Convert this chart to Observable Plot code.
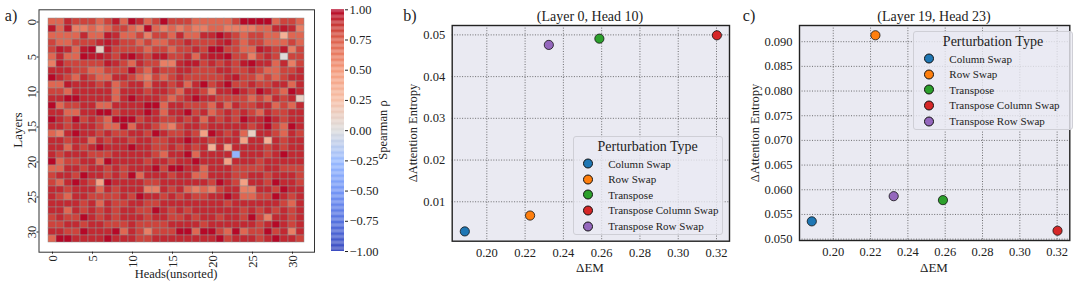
<!DOCTYPE html>
<html><head><meta charset="utf-8">
<script src="https://cdn.jsdelivr.net/npm/d3@7"></script>
<script src="https://cdn.jsdelivr.net/npm/@observablehq/plot@0.6"></script>
<style>
body{margin:0;background:#fff;font-family:"Liberation Serif","DejaVu Serif",serif;color:#222;}
#root{position:relative;width:1080px;height:285px;overflow:hidden;background:#fff;}
#root svg{font-family:"Liberation Serif","DejaVu Serif",serif;font-size:12.5px;}
#root svg text{font-family:"Liberation Serif","DejaVu Serif",serif;}
.plot{position:absolute;top:0;}
.lbl{position:absolute;white-space:nowrap;font-size:13px;line-height:1;color:#222;}
.rot{transform:translate(-50%,-50%) rotate(-90deg);}
.ctr{transform:translate(-50%,-50%);}
.panel{font-size:16px;}
.legend{position:absolute;background:rgba(234,234,242,0.8);border:1px solid #cfcfd6;border-radius:3px;box-sizing:border-box;}
.legend .ttl{position:absolute;left:0;right:0;text-align:center;font-size:14px;line-height:1;transform:translateY(-50%);}
.legend .item{position:absolute;display:flex;align-items:center;font-size:11px;line-height:1;transform:translateY(-50%);white-space:nowrap;}
.legend .mk{width:8px;height:8px;border-radius:50%;border:0.8px solid #111;margin-right:15px;}
</style>
</head><body>
<div id="root"></div>
<script>
// ---------- Data ----------
const layers = d3.range(32);
const heads = d3.range(32);
const layerTicks = [0, 5, 10, 15, 20, 25, 30];
const headTicks = [0, 5, 10, 15, 20, 25, 30];
const colorbarTicks = [-1, -0.75, -0.5, -0.25, 0, 0.25, 0.5, 0.75, 1];

// Spearman rho per (layer row, head column)
const rho = [
[.72,.72,.91,.84,.84,.84,.72,.84,.95,.72,.99,.91,.72,.84,.99,.84,.84,.84,.72,.72,.72,.72,.72,.84,.99,.99,.99,.99,.72,.84,.84,.72],
[.95,.72,.95,.62,.62,.72,.62,.72,.84,.84,.72,.62,.99,.72,.62,.72,.62,.72,.62,.62,.72,.72,.62,.62,.62,.62,.72,.72,.91,.95,.91,.62],
[.72,.72,.72,.72,.91,.72,.72,.95,.91,.72,.72,.84,.62,.84,.84,.72,.91,.72,.72,.91,.91,.99,.91,.84,.72,.84,.84,.72,.72,.35,.72,.72],
[.84,.72,.72,.84,.84,.84,.91,.95,.91,.84,.84,.72,.84,.72,.72,.84,.84,.91,.84,.84,.84,.91,.95,.84,.72,.84,.84,.72,.72,.72,.84,.72],
[.84,.95,.91,.72,.95,.99,.12,.95,.84,.84,.84,.84,.72,.84,.84,.72,.84,.84,.91,.84,.99,.99,.84,.84,.72,.72,.95,.91,.84,.95,.62,.84],
[.72,.91,.72,.72,.99,.95,.95,.91,.84,.95,.99,.91,.84,.95,.95,.84,.84,.91,.72,.91,.95,.95,.99,.84,.84,.62,.84,.91,.84,.02,.84,.84],
[.62,.95,.84,.84,.84,.84,.84,.95,.91,.84,.72,.91,.84,.84,.62,.62,.91,.95,.95,.84,.91,.84,.91,.84,.95,.99,.91,.91,.72,.91,.62,.84],
[.91,.91,.91,.84,.84,.72,.72,.84,.84,.84,.99,.84,.72,.91,.84,.84,.91,.91,.84,.84,.84,.91,.91,.84,.84,.91,.84,.72,.72,.84,.84,.91],
[.99,.91,.84,.72,.91,.84,.72,.72,.91,.91,.84,.72,.62,.84,.72,.84,.91,.84,.84,.84,.84,.84,.91,.95,.84,.84,.72,.84,.72,.84,.91,.91],
[.72,.72,.95,.91,.91,.91,.84,.91,.72,.84,.91,.91,.72,.91,.91,.84,.91,.72,.91,.99,.84,.91,.99,.84,.84,.91,.84,.84,.91,.91,.72,.91],
[.84,.84,.72,.91,.91,.91,.91,.91,.72,.91,.91,.91,.84,.91,.91,.84,.72,.91,.91,.84,.62,.91,.91,.99,.91,.84,.99,.91,.84,.72,.99,.91],
[.91,.91,.99,.99,.91,.91,.91,.91,.72,.91,.99,.91,.91,.91,.84,.72,.84,.91,.99,.91,.91,.84,.84,.84,.84,.72,.84,.72,.91,.84,.91,.12],
[.99,.72,.84,.84,.91,.91,.72,.72,.91,.91,.91,.91,.99,.99,.72,.91,.91,.84,.84,.84,.72,.91,.72,.91,.84,.84,.91,.91,.72,.84,.72,.91],
[.91,.91,.72,.72,.91,.91,.99,.99,.84,.91,.91,.91,.99,.91,.72,.91,.91,.99,.84,.91,.72,.84,.91,.84,.91,.84,.72,.91,.84,.84,.91,.91],
[.99,.91,.84,.99,.84,.91,.84,.72,.99,.99,.99,.84,.91,.91,.84,.84,.91,.84,.91,.72,.91,.84,.91,.84,.99,.91,.91,.99,.91,.84,.91,.91],
[.91,.91,.84,.91,.91,.91,.84,.72,.72,.99,.72,.91,.91,.84,.72,.62,.84,.91,.91,.84,.91,.91,.91,.91,.91,.84,.91,.99,.84,.72,.99,.91],
[.72,.62,.91,.99,.91,.91,.84,.91,.84,.84,.91,.91,.84,.99,.91,.84,.84,.91,.84,.45,.99,.91,.84,.91,.72,.12,.91,.91,.84,.72,.91,.84],
[.91,.91,.84,.91,.91,.72,.91,.84,.91,.91,.84,.91,.91,.84,.84,.91,.91,.99,.91,.91,.84,.91,.91,.91,.45,.91,.91,.35,.91,.84,.91,.91],
[.91,.91,.72,.91,.84,.91,.99,.91,.91,.91,.99,.91,.91,.84,.84,.91,.84,.91,.84,.91,.35,.91,.45,.91,.91,.91,.91,.84,.91,.84,.91,.91],
[.91,.84,.91,.91,.91,.84,.84,.84,.91,.91,.91,.91,.91,.84,.72,.91,.91,.99,.72,.91,.91,.91,.91,-.30,.91,.91,.91,.84,.91,.99,.91,.91],
[.99,.72,.84,.84,.91,.91,.72,.99,.91,.91,.91,.91,.84,.91,.91,.84,.91,.91,.99,.91,.91,.91,.45,.91,.91,.91,.84,.91,.91,.91,.91,.91],
[.72,.72,.91,.91,.84,.91,.91,.84,.91,.84,.91,.91,.91,.99,.84,.99,.99,.91,.91,.72,.91,.91,.91,.84,.84,.84,.84,.91,.91,.84,.84,.84],
[.84,.91,.91,.84,.99,.91,.91,.84,.91,.84,.99,.72,.91,.91,.91,.84,.91,.91,.72,.72,.91,.91,.91,.84,.84,.91,.91,.84,.91,.91,.91,.84],
[.84,.72,.91,.99,.91,.84,.45,.99,.91,.91,.91,.91,.84,.84,.91,.91,.91,.91,.91,.91,.84,.99,.91,.84,.45,.91,.91,.84,.99,.91,.91,.84],
[.91,.91,.84,.91,.91,.91,.72,.91,.84,.91,.91,.91,.62,.62,.91,.84,.91,.72,.62,.72,.62,.84,.91,.91,.62,.62,.91,.91,.84,.99,.91,.91],
[.91,.84,.72,.91,.91,.84,.84,.84,.84,.91,.84,.99,.91,.91,.84,.91,.84,.91,.84,.84,.91,.91,.99,.91,.72,.72,.84,.84,.99,.91,.84,.91],
[.91,.91,.91,.91,.84,.91,.72,.91,.84,.84,.91,.91,.84,.84,.91,.91,.91,.91,.91,.91,.91,.91,.84,.91,.91,.91,.91,.91,.91,.84,.72,.91],
[.91,.91,.72,.91,.84,.91,.84,.91,.84,.91,.91,.84,.84,.99,.91,.84,.91,.84,.91,.91,.91,.91,.91,.91,.84,.91,.84,.91,.84,.91,.84,.91],
[.84,.91,.84,.84,.99,.91,.84,.91,.84,.91,.91,.91,.84,.91,.91,.84,.84,.91,.84,.91,.91,.84,.91,.91,.84,.99,.84,.62,.91,.91,.84,.91],
[.84,.84,.91,.91,.84,.91,.91,.84,.84,.84,.91,.84,.84,.84,.84,.91,.91,.91,.91,.84,.91,.91,.91,.91,.91,.91,.84,.91,.99,.91,.84,.91],
[.91,.91,.84,.84,.99,.91,.91,.91,.99,.72,.91,.84,.62,.84,.84,.84,.99,.99,.72,.99,.99,.84,.72,.99,.72,.84,.84,.99,.84,.91,.62,.91],
[.72,.99,.99,.91,.91,.91,.91,.99,.91,.91,.91,.84,.84,.91,.91,.91,.91,.91,.91,.91,.91,.99,.84,.91,.91,.91,.84,.91,.99,.91,.91,.84]
];

const perturbations = ["Column Swap", "Row Swap", "Transpose", "Transpose Column Swap", "Transpose Row Swap"];
const pertColors = ["#1f77b4", "#ff7f0e", "#2ca02c", "#d62728", "#9467bd"];
const deltaEM = [0.1885, 0.2226, 0.2588, 0.3202, 0.2324];
const entropyB = [0.0029, 0.0067, 0.0491, 0.0499, 0.0476];   // Layer 0, Head 10
const entropyC = [0.0536, 0.0913, 0.0579, 0.0517, 0.0587];   // Layer 19, Head 23
const emTicks = [0.20, 0.22, 0.24, 0.26, 0.28, 0.30, 0.32];
const entTicksB = [0.01, 0.02, 0.03, 0.04, 0.05];
const entTicksC = [0.050, 0.055, 0.060, 0.065, 0.070, 0.075, 0.080, 0.085, 0.090];

// coolwarm colormap stops
const cwDomain = [-1, -0.75, -0.5, -0.25, 0, 0.25, 0.5, 0.75, 0.875, 1];
const cwRange = ["#3b4cc0", "#5673e0", "#7597f6", "#9abbff", "#dddddd", "#f6bfa6", "#f49a7b", "#dd5f4b", "#c83836", "#b40426"];

// ---------- Build ----------
const root = document.getElementById("root");
const FONT = "Liberation Serif, DejaVu Serif, serif";
const baseStyle = {fontFamily: FONT, fontSize: "12.5px", color: "#222", background: "transparent", overflow: "visible"};
const colorOpt = {type: "linear", domain: cwDomain, range: cwRange, clamp: true};

function place(el, left) { el.classList.add("plot"); el.style.left = left + "px"; root.appendChild(el); }
function label(text, x, y, cls, size) {
  const d = document.createElement("div");
  d.className = "lbl " + (cls || "ctr");
  d.textContent = text; d.style.left = x + "px"; d.style.top = y + "px";
  if (size) d.style.fontSize = size + "px";
  root.appendChild(d);
}

// Heatmap
const cells = [];
rho.forEach((row, i) => row.forEach((v, j) => cells.push({layer: layers[i], head: heads[j], rho: v})));
const heat = Plot.plot({
  width: 360, height: 285,
  marginLeft: 38.5, marginRight: 46, marginTop: 9.3, marginBottom: 33.3,
  x: {type: "band", domain: heads, padding: 0},
  y: {type: "band", domain: layers, padding: 0},
  color: colorOpt,
  style: baseStyle,
  marks: [
    Plot.cell(cells, {x: "head", y: "layer", fill: "rho", stroke: "#8f8f8f", strokeWidth: 0.5}),
    Plot.frame({stroke: "#333", strokeWidth: 1}),
    Plot.axisX({ticks: headTicks, tickSize: 2, tickFormat: () => "", label: null}),
    Plot.axisY({ticks: layerTicks, tickSize: 2, tickFormat: () => "", label: null}),
    Plot.text(headTicks, {x: d => d, frameAnchor: "bottom", dy: 3, rotate: -90, textAnchor: "end", lineAnchor: "middle", text: d => String(d), fontSize: 12.5}),
    Plot.text(layerTicks, {y: d => d, frameAnchor: "left", dx: -3, rotate: -90, textAnchor: "middle", lineAnchor: "bottom", text: d => String(d), fontSize: 12.5})
  ]
});
place(heat, 0);

// Colorbar
const step = 0.01;
const cbSteps = d3.range(-1, 1, step);
const cb = Plot.plot({
  width: 60, height: 285,
  marginLeft: 11, marginRight: 36, marginTop: 9.3, marginBottom: 34,
  y: {domain: [-1, 1]},
  color: colorOpt,
  style: baseStyle,
  marks: [
    Plot.rect(cbSteps, {y1: d => d, y2: d => d + step, fill: d => d + step / 2}),
    Plot.axisY({anchor: "right", ticks: colorbarTicks, tickFormat: ".2f", tickSize: 3, tickPadding: 2, label: null})
  ]
});
place(cb, 320);

label("a)", 11, 16, "ctr panel");
label("Layers", 17, 130, "rot", 13);
label("Heads(unsorted)", 176, 274, "ctr", 12.5);
label("Spearman ρ", 383, 130, "rot", 12.5);

// Scatter panels
function pad(ext) { const s = ext[1] - ext[0]; return [ext[0] - 0.05 * s, ext[1] + 0.05 * s]; }
const pts = (ent) => perturbations.map((p, i) => ({type: p, em: deltaEM[i], ent: ent[i]}));

function scatter(ent, yTicks, yFmt, opts) {
  return Plot.plot({
    width: opts.width, height: 285,
    marginLeft: opts.ml, marginRight: opts.mr, marginTop: 25, marginBottom: opts.mb,
    x: {domain: pad(d3.extent(deltaEM))},
    y: {domain: pad(d3.extent(ent))},
    color: {domain: perturbations, range: pertColors},
    style: baseStyle,
    marks: [
      Plot.frame({fill: "#eaeaf2"}),
      Plot.gridX(emTicks, {stroke: "#333", strokeOpacity: 0.85, strokeWidth: 0.8, strokeDasharray: "1,1.6"}),
      Plot.gridY(yTicks, {stroke: "#333", strokeOpacity: 0.85, strokeWidth: 0.8, strokeDasharray: "1,1.6"}),
      Plot.dot(pts(ent), {x: "em", y: "ent", fill: "type", stroke: "#111", strokeWidth: 0.8, r: 4.6, fillOpacity: 1}),
      Plot.frame({stroke: "#222", strokeWidth: 1.4}),
      Plot.axisX({ticks: emTicks, tickFormat: ".2f", tickSize: 0, tickPadding: 7, label: null}),
      Plot.axisY({ticks: yTicks, tickFormat: yFmt, tickSize: 0, tickPadding: 7, label: null})
    ]
  });
}

function legend(left, top, width, height, markerX) {
  const L = document.createElement("div");
  L.className = "legend";
  Object.assign(L.style, {left: left + "px", top: top + "px", width: width + "px", height: height + "px"});
  const t = document.createElement("div"); t.className = "ttl"; t.textContent = "Perturbation Type";
  t.style.top = "10px"; L.appendChild(t);
  perturbations.forEach((p, i) => {
    const it = document.createElement("div"); it.className = "item";
    it.style.top = (27 + 15.6 * i) + "px"; it.style.left = markerX + "px";
    const m = document.createElement("span"); m.className = "mk"; m.style.background = pertColors[i];
    const s = document.createElement("span"); s.textContent = p;
    it.appendChild(m); it.appendChild(s); L.appendChild(it);
  });
  root.appendChild(L);
}

const pb = scatter(entropyB, entTicksB, ".2f", {width: 370, ml: 81.7, mr: 11, mb: 44.3});
place(pb, 370);
legend(572.7, 135.7, 150, 99.5, 9.5);
label("b)", 410, 16, "ctr panel");
label("(Layer 0, Head 10)", 590, 17, "ctr", 14);
label("ΔEM", 590, 267, "ctr", 13);
label("ΔAttention Entropy", 413, 133, "rot", 12.5);

const pc = scatter(entropyC, entTicksC, ".3f", {width: 360, ml: 79, mr: 10.7, mb: 45});
place(pc, 720);
legend(913.3, 30.7, 159.4, 99.5, 10);
label("c)", 749, 16, "ctr panel");
label("(Layer 19, Head 23)", 934, 17, "ctr", 14);
label("ΔEM", 934, 267, "ctr", 13);
label("ΔAttention Entropy", 755, 133, "rot", 12.5);
</script>
</body></html>
